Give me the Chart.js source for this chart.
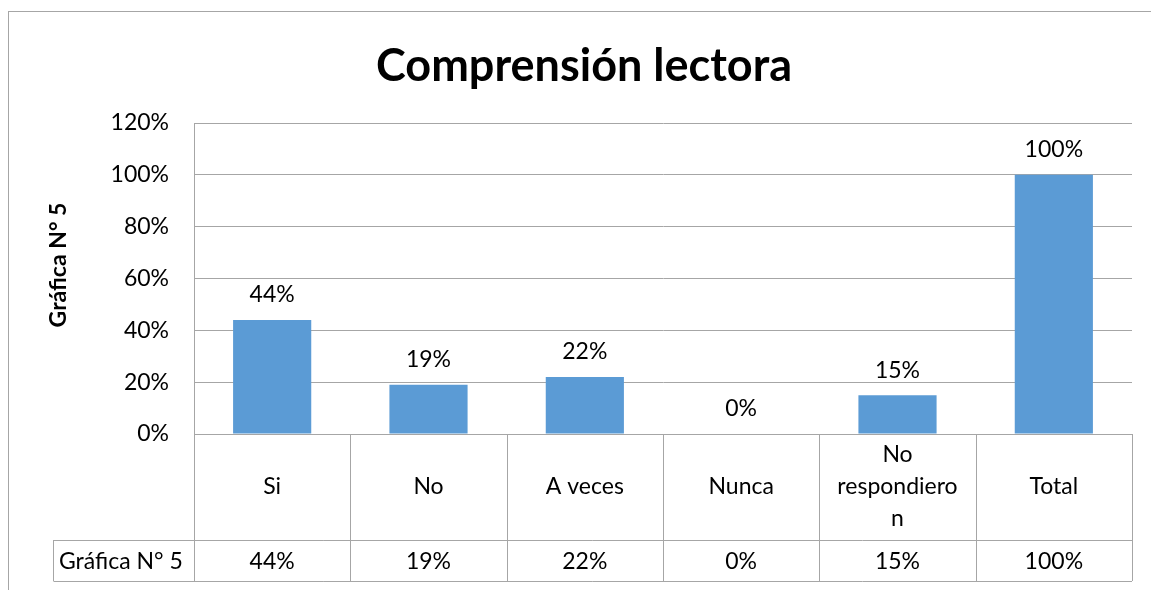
<!DOCTYPE html>
<html>
<head>
<meta charset="utf-8">
<script src="https://cdn.jsdelivr.net/npm/chart.js@4"></script>
<style>
  html, body { margin: 0; padding: 0; background: #fff; }
  #wrap { width: 1151px; height: 590px; }
</style>
</head>
<body>
<div id="wrap"><canvas id="chart"></canvas></div>
<script>
// Data
const categories = ['Si', 'No', 'A veces', 'Nunca', ['No', 'respondiero', 'n'], 'Total'];
const seriesName = 'Gráfica N° 5';
const values = [44, 19, 22, 0, 15, 100];
const yTicks = [0, 20, 40, 60, 80, 100, 120];

const FONT = 'Lato, "Open Sans", sans-serif';
const GRID = '#a6a6a6';

// frame, titles, value labels and data table under the plot
const tablePlugin = {
  id: 'dataTable',
  beforeDraw(chart) {
    const ctx = chart.ctx;
    ctx.save();
    ctx.fillStyle = '#fff';
    ctx.fillRect(0, 0, chart.width, chart.height);
    ctx.strokeStyle = GRID;
    ctx.lineWidth = 1;
    ctx.strokeRect(8.5, 11.5, chart.width + 20, chart.height + 20);
    ctx.restore();
  },
  afterDraw(chart) {
    const { ctx, chartArea: a, scales: { x, y } } = chart;
    ctx.save();

    // title
    ctx.fillStyle = '#000';
    ctx.font = 'bold 45px ' + FONT;
    ctx.textAlign = 'center';
    ctx.textBaseline = 'middle';
    ctx.fillText('Comprensión lectora', 584, 66);

    // y axis title
    ctx.save();
    ctx.translate(59, 265);
    ctx.rotate(-Math.PI / 2);
    ctx.font = 'bold 23px ' + FONT;
    ctx.fillText(seriesName, 0, 0);
    ctx.restore();

    // value labels above bars
    ctx.font = '23px ' + FONT;
    values.forEach((v, i) => {
      ctx.fillText(v + '%', x.getPixelForValue(i), y.getPixelForValue(v) - 25);
    });

    // table
    const half = (x.getPixelForValue(1) - x.getPixelForValue(0)) / 2;
    const rowTop = a.bottom, rowMid = a.bottom + 106, rowBot = a.bottom + 147;
    const keyLeft = 53;
    ctx.strokeStyle = GRID;
    ctx.lineWidth = 1;
    ctx.beginPath();
    ctx.moveTo(a.left + 0.5, rowTop);
    ctx.lineTo(a.left + 0.5, rowBot);
    for (let i = 0; i < categories.length; i++) {
      const r = Math.round(x.getPixelForValue(i) + half) + 0.5;
      ctx.moveTo(r, rowTop);
      ctx.lineTo(r, rowBot);
    }
    ctx.moveTo(keyLeft + 0.5, rowMid + 0.5);
    ctx.lineTo(a.right, rowMid + 0.5);
    ctx.moveTo(keyLeft + 0.5, rowBot + 0.5);
    ctx.lineTo(a.right, rowBot + 0.5);
    ctx.moveTo(keyLeft + 0.5, rowMid);
    ctx.lineTo(keyLeft + 0.5, rowBot);
    ctx.stroke();

    ctx.fillStyle = '#000';
    ctx.font = '23px ' + FONT;
    categories.forEach((c, i) => {
      const lines = Array.isArray(c) ? c : [c];
      const cx = x.getPixelForValue(i);
      const cy = (rowTop + rowMid) / 2;
      const lh = 32;
      lines.forEach((t, j) => {
        ctx.fillText(t, cx, cy + (j - (lines.length - 1) / 2) * lh);
      });
      ctx.fillText(values[i] + '%', cx, (rowMid + rowBot) / 2 + 1);
    });
    ctx.textAlign = 'left';
    ctx.fillText(seriesName, keyLeft + 6, (rowMid + rowBot) / 2 + 1);
    ctx.restore();
  }
};

new Chart(document.getElementById('chart'), {
  type: 'bar',
  data: {
    labels: categories,
    datasets: [{
      label: seriesName,
      data: values,
      backgroundColor: '#5b9bd5',
      barPercentage: 1,
      categoryPercentage: 0.5
    }]
  },
  options: {
    responsive: true,
    maintainAspectRatio: false,
    animation: false,
    layout: { padding: { left: 0, right: 19, top: 123, bottom: 156 } },
    plugins: {
      legend: { display: false },
      tooltip: { enabled: false }
    },
    scales: {
      x: { display: false },
      y: {
        min: 0,
        max: 120,
        afterBuildTicks(scale) { scale.ticks = yTicks.map(v => ({ value: v })); },
        afterFit(scale) { scale.width = 194; },
        ticks: {
          padding: 25,
          color: '#000',
          font: { family: FONT, size: 23 },
          callback: v => v + '%'
        },
        grid: { color: GRID, drawTicks: false },
        border: { color: GRID }
      }
    }
  },
  plugins: [tablePlugin]
});
</script>
</body>
</html>
